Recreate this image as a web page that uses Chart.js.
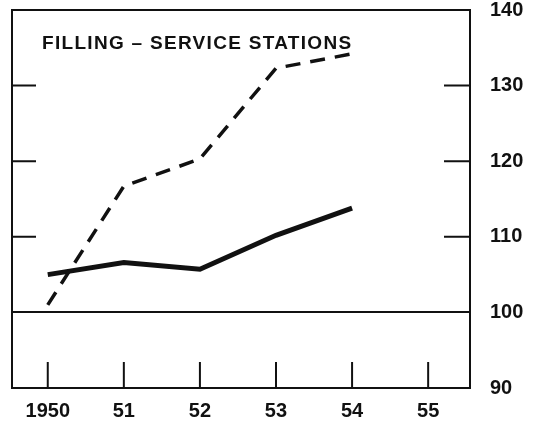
<!DOCTYPE html>
<html>
<head>
<meta charset="utf-8">
<script src="https://cdn.jsdelivr.net/npm/chart.js@4/dist/chart.umd.min.js"></script>
<style>
  html, body { margin: 0; padding: 0; background: #fff; }
  #wrap { width: 539px; height: 423px; position: relative; }
</style>
</head>
<body>
<div id="wrap"><canvas id="chart"></canvas></div>
<script>
const title = 'FILLING – SERVICE STATIONS';
const years = [1950, 1951, 1952, 1953, 1954];
const tickYears = [1950, 1951, 1952, 1953, 1954, 1955];
const xTickLabels = ['1950', '51', '52', '53', '54', '55'];
const yTicks = [90, 100, 110, 120, 130, 140];
const innerYTicks = [110, 120, 130];
const dashedValues = [101, 116.7, 120.3, 132.3, 134.2];
const solidValues = [105, 106.6, 105.7, 110.2, 113.8];

const ink = '#111';
const fontFamily = "'Liberation Sans', Arial, sans-serif";

// frame, inside tick marks and the title, placed through the chart's scales
const framePlugin = {
    id: 'frame',
    beforeDatasetsDraw(chart) {
        const { ctx, chartArea: a, scales } = chart;
        ctx.save();
        ctx.strokeStyle = ink;
        ctx.lineWidth = 2;
        ctx.strokeRect(a.left, a.top, a.right - a.left, a.bottom - a.top);

        innerYTicks.forEach(v => {
            const y = scales.y.getPixelForValue(v);
            ctx.beginPath();
            ctx.moveTo(a.left, y);
            ctx.lineTo(a.left + 24, y);
            ctx.moveTo(a.right, y);
            ctx.lineTo(a.right - 26, y);
            ctx.stroke();
        });
        tickYears.forEach(v => {
            const x = scales.x.getPixelForValue(v);
            ctx.beginPath();
            ctx.moveTo(x, a.bottom);
            ctx.lineTo(x, a.bottom - 26);
            ctx.stroke();
        });

        ctx.fillStyle = ink;
        ctx.font = 'bold 19px ' + fontFamily;
        ctx.letterSpacing = '1.3px';
        ctx.textBaseline = 'middle';
        ctx.fillText(title, a.left + 30, a.top + 34);
        ctx.restore();
    }
};

new Chart(document.getElementById('chart'), {
    type: 'line',
    data: {
        datasets: [{
            label: 'dashed',
            data: years.map((x, i) => ({ x, y: dashedValues[i] })),
            borderColor: ink,
            borderWidth: 3.5,
            borderDash: [15, 10],
            pointRadius: 0,
            tension: 0,
            fill: false
        }, {
            label: 'solid',
            data: years.map((x, i) => ({ x, y: solidValues[i] })),
            borderColor: ink,
            borderWidth: 5,
            pointRadius: 0,
            tension: 0,
            fill: false
        }]
    },
    options: {
        responsive: true,
        maintainAspectRatio: false,
        animation: false,
        events: [],
        layout: { padding: { left: 12, top: 10, right: 0, bottom: 0 } },
        plugins: {
            legend: { display: false },
            tooltip: { enabled: false }
        },
        scales: {
            x: {
                type: 'linear',
                min: 1949.53,
                max: 1955.55,
                afterBuildTicks: scale => { scale.ticks = tickYears.map(v => ({ value: v })); },
                afterFit: scale => {
                    scale.height = 35;
                    scale.paddingLeft = 0;
                    scale.paddingRight = 0;
                },
                grid: { display: false, drawTicks: false },
                border: { display: false },
                ticks: {
                    autoSkip: false,
                    maxRotation: 0,
                    padding: 11,
                    color: ink,
                    font: { family: fontFamily, size: 20, weight: 'bold' },
                    callback: value => xTickLabels[tickYears.indexOf(value)]
                }
            },
            y: {
                type: 'linear',
                position: 'right',
                min: 90,
                max: 140,
                afterBuildTicks: scale => { scale.ticks = yTicks.map(v => ({ value: v })); },
                afterFit: scale => {
                    scale.width = 69;
                    scale.paddingTop = 0;
                    scale.paddingBottom = 0;
                },
                border: { display: false },
                grid: {
                    drawTicks: false,
                    lineWidth: 2,
                    color: c => (c.tick && c.tick.value === 100 ? ink : 'rgba(0,0,0,0)')
                },
                ticks: {
                    padding: 20,
                    color: ink,
                    font: { family: fontFamily, size: 20, weight: 'bold' }
                }
            }
        }
    },
    plugins: [framePlugin]
});
</script>
</body>
</html>
